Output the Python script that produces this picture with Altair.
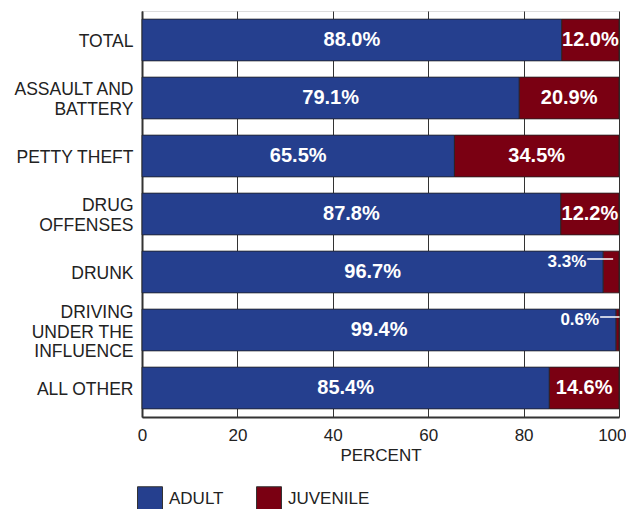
import altair as alt
import pandas as pd

categories = ["TOTAL", "ASSAULT AND|BATTERY", "PETTY THEFT", "DRUG|OFFENSES",
              "DRUNK", "DRIVING|UNDER THE|INFLUENCE", "ALL OTHER"]
adult = [88.0, 79.1, 65.5, 87.8, 96.7, 99.4, 85.4]
juvenile = [12.0, 20.9, 34.5, 12.2, 3.3, 0.6, 14.6]
groups = ["ADULT", "JUVENILE"]
colors = ["#253f8e", "#7a0012"]
x_ticks = [0, 20, 40, 60, 80, 100]

rows = []
for c, a, j in zip(categories, adult, juvenile):
    rows.append(dict(category=c, group="ADULT", value=a, start=0.0, end=a))
    rows.append(dict(category=c, group="JUVENILE", value=j, start=a, end=a + j))
df = pd.DataFrame(rows)
df["mid"] = (df["start"] + df["end"]) / 2
df["label"] = df["value"].map(lambda v: f"{v:.1f}%")
df["small"] = df["value"] < 5

FONT = "Liberation Sans"

y_label_offset = {
    "condition": [
        {"test": "length(split(datum.label, '|')) == 3", "value": -17},
        {"test": "length(split(datum.label, '|')) == 2", "value": -8},
    ],
    "value": 2,
}
x_label_align = {"condition": {"test": "datum.value == 100", "value": "right"},
                 "value": "center"}
x_label_offset = {"condition": {"test": "datum.value == 100", "value": 7},
                  "value": 0}

y_enc = alt.Y("category:N", sort=categories, title=None,
              scale=alt.Scale(paddingInner=0.28, paddingOuter=0.14),
              axis=alt.Axis(labelExpr="split(datum.label, '|')", labelFontSize=17.5,
                            labelColor="#222", labelFont=FONT, ticks=False,
                            labelPadding=9, labelLineHeight=19.5,
                            labelOffset=y_label_offset,
                            domainColor="#333", domainWidth=2))

x_scale = alt.Scale(domain=[0, 100], nice=False)

bars = alt.Chart(df).mark_bar(stroke="#222", strokeWidth=0.8).encode(
    x=alt.X("start:Q", scale=x_scale, title="PERCENT",
            axis=alt.Axis(values=x_ticks, grid=True, gridColor="#333",
                          gridWidth=1, ticks=False, labelFontSize=17, labelColor="#222",
                          labelFont=FONT, labelPadding=10, titleFont=FONT,
                          titleFontSize=17, titleFontWeight="normal", titleColor="#222",
                          titlePadding=4, domainColor="#333", domainWidth=2,
                          labelFlush=False, labelAlign=x_label_align,
                          labelOffset=x_label_offset)),
    x2="end:Q",
    y=y_enc,
    color=alt.Color("group:N", scale=alt.Scale(domain=groups, range=colors), title=None,
                    legend=alt.Legend(orient="none", legendX=-5, legendY=475,
                                      direction="horizontal", symbolType="square",
                                      symbolSize=625, symbolStrokeColor="#333",
                                      symbolStrokeWidth=1, labelFontSize=17,
                                      labelFont=FONT, labelColor="#222",
                                      labelOffset=6, columnPadding=30)),
)

inner = alt.Chart(df).transform_filter("!datum.small").mark_text(
    color="white", fontWeight="bold", fontSize=20, font=FONT, baseline="middle"
).encode(x=alt.X("mid:Q", scale=x_scale), y=alt.Y("category:N", sort=categories),
         text="label:N")

callout_text = alt.Chart(df).transform_filter("datum.small").mark_text(
    color="white", fontWeight="bold", fontSize=17, font=FONT, baseline="middle",
    align="right", dx=-17, dy=-10
).encode(x=alt.X("start:Q", scale=x_scale), y=alt.Y("category:N", sort=categories),
         text="label:N")

callout_line = alt.Chart(df).transform_filter("datum.small").mark_rule(
    color="white", strokeWidth=1.5, xOffset=-16, x2Offset=2, yOffset=-13
).encode(x=alt.X("start:Q", scale=x_scale), x2="mid:Q",
         y=alt.Y("category:N", sort=categories))

chart = alt.layer(bars, inner, callout_line, callout_text).properties(
    width=477, height=406,
    autosize=alt.AutoSizeParams(type="none"),
    padding={"left": 134, "top": 3, "right": 7, "bottom": 92},
).configure_view(stroke="#333", strokeWidth=2).configure(font=FONT)

chart.save("out.html", embed_options={"renderer": "svg", "actions": False})
